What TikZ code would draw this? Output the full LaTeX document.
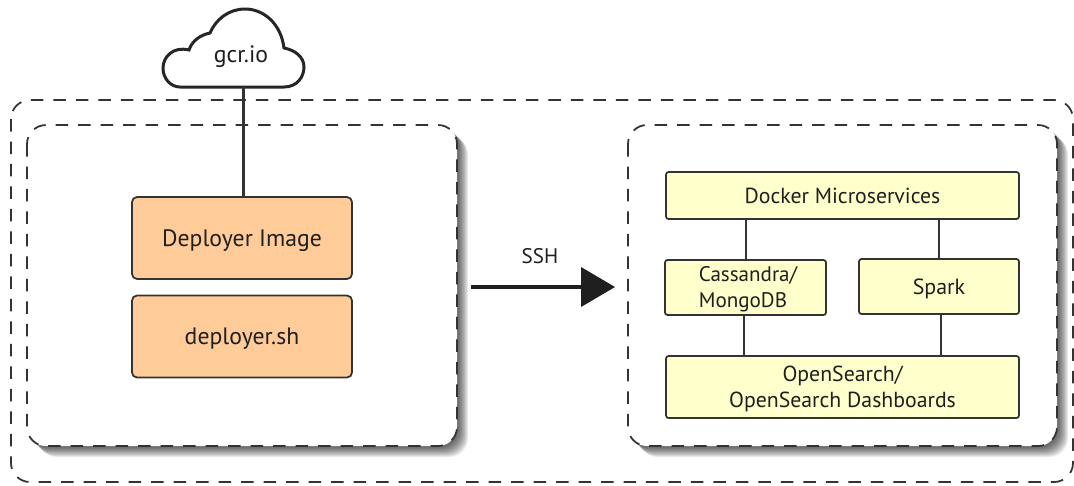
\documentclass[tikz,border=0pt]{standalone}
\usepackage{fontspec}
\setmainfont{PT Sans}
\usetikzlibrary{calc}
\definecolor{boxline}{HTML}{333333}
\definecolor{deployfill}{HTML}{FFCC99}
\definecolor{servicefill}{HTML}{FFFFCC}
\tikzset{
	every node/.style={font=\fontsize{12}{14.6}\selectfont, text=black!88},
	dashbox/.style={draw=boxline, line width=0.035cm, dash pattern=on 0.25cm off 0.2cm, rounded corners=0.38cm},
	deploybox/.style={draw=boxline, line width=0.035cm, fill=deployfill, rounded corners=0.1cm, minimum width=4.4cm, minimum height=1.64cm, align=center, font=\fontsize{13.5}{16}\selectfont, text depth=-1pt},
	servicebox/.style={draw=boxline, line width=0.035cm, fill=servicefill, rounded corners=0.05cm, align=center, inner sep=0pt},
	link/.style={draw=boxline, line width=0.04cm},
}
\begin{document}
\begin{tikzpicture}[x=0.02cm, y=-0.02cm]
		%%%%% START %%%%%
		\useasboundingbox (0, 0) rectangle (1074, 485);
		
		\draw[dashbox] (11, 100) rectangle (1073, 482);
		
		% soft shadows of the two panels
		\foreach \d in {1, 2, ..., 11} {
			\fill[black, opacity=0.08, rounded corners=0.38cm] (27+\d, 125+\d) rectangle (457+\d, 446+\d);
			\fill[black, opacity=0.08, rounded corners=0.38cm] (628+\d, 125+\d) rectangle (1057+\d, 446+\d);
		}
		\fill[white, rounded corners=0.38cm] (27, 125) rectangle (457, 446);
		\fill[white, rounded corners=0.38cm] (628, 125) rectangle (1057, 446);
		\draw[dashbox] (27, 125) rectangle (457, 446);
		\draw[dashbox] (628, 125) rectangle (1057, 446);
		
		% cloud
		\draw[draw=black!85, line width=0.06cm, fill=white] (180, 87) -- (284, 87)
			.. controls (297, 87) and (304, 77) .. (304, 67)
			.. controls (304, 57) and (295, 50) .. (284, 48)
			.. controls (281, 24) and (264, 9) .. (245, 9)
			.. controls (229, 9) and (216, 19) .. (210, 33)
			.. controls (200, 35) and (192, 41) .. (189, 50)
			.. controls (173, 46) and (163, 57) .. (163, 68)
			.. controls (163, 79) and (171, 87) .. (180, 87) -- cycle;
		\node[font=\fontsize{13.5}{16}\selectfont] (registry) at (241, 57) {gcr.io};
		\coordinate (cloudfoot) at (243, 87);
		
		\node[deploybox] (image) at (242, 238) {Deployer Image};
		\node[deploybox] (script) at (242, 336.5) {deployer.sh};
		\draw[link, line width=0.06cm] (cloudfoot) -- (cloudfoot |- image.north);
		
		% right panel
		\node[servicebox, font=\fontsize{12.4}{14.6}\selectfont, text depth=-2pt, minimum width=7.06cm, minimum height=0.94cm] (docker) at (842.5, 195.5) {Docker Microservices};
		\node[servicebox, align=left, text depth=0.6pt, minimum width=3.22cm, minimum height=1.1cm] (cassandra) at (745.5, 287.5) {\hspace*{0.1cm}Cassandra/\\\hspace*{0.1cm}MongoDB};
		\node[servicebox, font=\fontsize{12.5}{14.6}\selectfont, text depth=-1.8pt, minimum width=3.2cm, minimum height=1.1cm] (spark) at (939, 286.5) {Spark};
		\node[servicebox, font=\fontsize{12.4}{14.8}\selectfont, text depth=-0.6pt, minimum width=7.06cm, minimum height=1.24cm] (opensearch) at (842.5, 387) {OpenSearch/\\OpenSearch Dashboards};
		
		\draw[link] (cassandra.north) -- (cassandra.north |- docker.south);
		\draw[link] (spark.north) -- (spark.north |- docker.south);
		\draw[link] ([xshift=-0.03cm]cassandra.south) -- ([xshift=-0.03cm]cassandra.south |- opensearch.north);
		\draw[link] ([xshift=0.04cm]spark.south) -- ([xshift=0.04cm]spark.south |- opensearch.north);
		
		% ssh arrow
		\coordinate (sshstart) at (471, 287);
		\coordinate (sshend) at (615, 287);
		\draw[draw=black!88, line width=0.07cm] (sshstart) -- (585, 287);
		\fill[black!88] (sshend) -- (581, 267) -- (581, 307) -- cycle;
		\node (ssh) at (540, 256) {SSH};
		
		%%%%% END %%%%%
	\end{tikzpicture}
\end{document}
